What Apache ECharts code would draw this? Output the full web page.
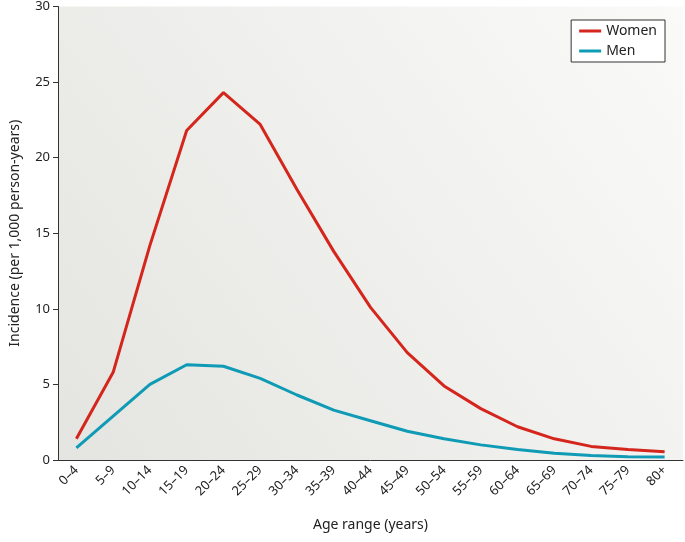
<!DOCTYPE html>
<html>
<head>
<meta charset="utf-8">
<script src="https://cdn.jsdelivr.net/npm/echarts@6/dist/echarts.min.js"></script>
<style>
  html, body { margin: 0; padding: 0; background: #fff; }
  #main { width: 685px; height: 542px; }
</style>
</head>
<body>
<div id="main"></div>
<script>
const ageRanges = ['0–4', '5–9', '10–14', '15–19', '20–24', '25–29', '30–34', '35–39', '40–44',
  '45–49', '50–54', '55–59', '60–64', '65–69', '70–74', '75–79', '80+']
const women = [1.4, 5.8, 14.2, 21.8, 24.3, 22.2, 17.9, 13.8, 10.1, 7.1, 4.9, 3.4, 2.2, 1.4, 0.9, 0.7, 0.55]
const men = [0.8, 2.9, 5.0, 6.3, 6.2, 5.4, 4.3, 3.3, 2.6, 1.9, 1.4, 1.0, 0.7, 0.45, 0.3, 0.22, 0.2]

const chart = echarts.init(document.getElementById('main'))
const font = 'Noto Sans'

chart.setOption({
  textStyle: { fontFamily: font },
  grid: {
    left: 55, right: 2, top: 5, bottom: 82,
    show: true, borderWidth: 0,
    backgroundColor: new echarts.graphic.LinearGradient(0, 1, 1, 0, [
      { offset: 0, color: '#e4e4e0' },
      { offset: 1, color: '#fafaf9' }
    ])
  },
  legend: {
    top: 20, right: 20,
    orient: 'vertical',
    backgroundColor: '#fff',
    borderColor: '#333', borderWidth: 1,
    padding: [4, 8, 4, 8],
    itemWidth: 22, itemHeight: 3, itemGap: 6,
    icon: 'rect',
    textStyle: { fontSize: 14, color: '#222', fontFamily: font },
    data: ['Women', 'Men']
  },
  xAxis: {
    type: 'category',
    data: ageRanges,
    name: 'Age range (years)',
    nameLocation: 'middle',
    nameGap: 58,
    nameTextStyle: { fontSize: 14, color: '#222' },
    axisLine: { lineStyle: { color: '#333' } },
    axisTick: { alignWithLabel: true, length: 5, lineStyle: { color: '#333' } },
    axisLabel: { rotate: 45, fontSize: 13, color: '#222', margin: 8 }
  },
  yAxis: {
    type: 'value',
    min: 0, max: 30, interval: 5,
    name: 'Incidence (per 1,000 person-years)',
    nameLocation: 'middle',
    nameGap: 36,
    nameTextStyle: { fontSize: 14, color: '#222' },
    axisLine: { show: true, lineStyle: { color: '#333' } },
    axisTick: { show: true, length: 5, lineStyle: { color: '#333' } },
    axisLabel: { fontSize: 13, color: '#222' },
    splitLine: { show: false }
  },
  series: [
    {
      name: 'Women', type: 'line', data: women,
      symbol: 'none', color: '#d4261c',
      lineStyle: { width: 3, color: '#d4261c' }
    },
    {
      name: 'Men', type: 'line', data: men,
      symbol: 'none', color: '#0f9bb5',
      lineStyle: { width: 3, color: '#0f9bb5' }
    }
  ]
})
</script>
</body>
</html>
